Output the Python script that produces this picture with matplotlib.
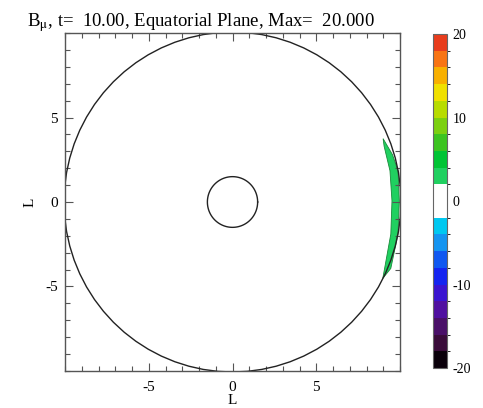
import matplotlib
matplotlib.use("Agg")
import matplotlib.pyplot as plt
import numpy as np
from matplotlib.colors import BoundaryNorm, ListedColormap
from matplotlib.ticker import MultipleLocator, FixedLocator

plt.rcParams["font.family"] = ["Liberation Serif", "DejaVu Serif"]
plt.rcParams["mathtext.fontset"] = "stix"
plt.rcParams["axes.unicode_minus"] = False

# Discrete colour table: 20 bins of width 2 from -20 to 20, white around zero
LEVELS = list(range(-20, 22, 2))
COLORS = [
    "#0a000a", "#3a0c3a", "#4a1068", "#5010a0", "#3a14d0",
    "#1424f0", "#1058f0", "#1494f0", "#00c8f0", "#ffffff",
    "#ffffff", "#20d060", "#00c434", "#3cc420", "#7cd010",
    "#b8dc00", "#f0e000", "#f8b000", "#f87414", "#e83c1c",
]
CBAR_TICKS = [-20, -10, 0, 10, 20]

# Field boundary (outer) and inner body radii, in L
OUTER_R = 10.06
INNER_R = 1.5

# Positive-B patch near the right edge of the domain (closed outline, in L)
CRESCENT_X = [8.99, 9.55, 9.88, 9.96, 9.88, 9.45, 8.97, 9.08, 9.45, 9.52, 9.40, 9.05]
CRESCENT_Y = [3.75, 2.80, 1.85, 0.06, -1.90, -3.93, -4.52, -3.93, -1.90, 0.06, 1.85, 3.30]
CRESCENT_VALUE = 3.0

T_VALUE = 10.00
MAX_VALUE = 20.000

cmap = ListedColormap(COLORS)
norm = BoundaryNorm(LEVELS, cmap.N)

fig = plt.figure(figsize=(4.83, 4.08), dpi=100)
ax = fig.add_axes([0.1346, 0.0907, 0.6936, 0.8284])

ax.fill(CRESCENT_X, CRESCENT_Y, color=cmap(norm(CRESCENT_VALUE)), lw=0.6,
        edgecolor="#1a8a3a", zorder=1)

theta = np.linspace(0, 2 * np.pi, 73)
ax.plot(OUTER_R * np.cos(theta), OUTER_R * np.sin(theta), color="#222222", lw=1.0, zorder=2)
phi = np.linspace(0, 2 * np.pi, 121)
ax.plot(INNER_R * np.cos(phi), INNER_R * np.sin(phi), color="#222222", lw=1.0, zorder=2)

ax.set_xlim(-10, 10)
ax.set_ylim(-10, 10)
ax.set_aspect("auto")
for a in (ax.xaxis, ax.yaxis):
    a.set_major_locator(FixedLocator([-5, 0, 5]))
    a.set_minor_locator(MultipleLocator(1))
ax.tick_params(which="both", direction="in", top=True, right=True,
               color="#555555", labelsize=11)
ax.tick_params(axis="x", pad=7)
ax.tick_params(axis="y", pad=5)
ax.tick_params(which="major", length=6, width=0.8)
ax.tick_params(which="minor", length=3.5, width=0.8)
for sp in ax.spines.values():
    sp.set_color("#555555")
    sp.set_linewidth(1.0)
ax.set_xlabel("L", fontsize=11)
ax.set_ylabel("L", fontsize=11)
ax.xaxis.set_label_coords(0.5, -0.068)
ax.yaxis.set_label_coords(-0.085, 0.5)

fig.text(27 / 483, 1 - 26 / 408,
         rf"B$_\mathrm{{\mu}}$, t=  {T_VALUE:.2f}, Equatorial Plane, Max=  {MAX_VALUE:.3f}",
         fontsize=13.5, ha="left", va="baseline")

cax = fig.add_axes([0.8965, 0.098, 0.029, 0.8186])
sm = matplotlib.cm.ScalarMappable(norm=norm, cmap=cmap)
cb = fig.colorbar(sm, cax=cax, ticks=CBAR_TICKS, spacing="proportional")
cb.ax.tick_params(length=0, labelsize=10, pad=4)
cb.outline.set_edgecolor("#666666")
cb.outline.set_linewidth(0.8)
cb.ax.set_yticklabels([str(t) for t in CBAR_TICKS])

fig.savefig("out.png", dpi=100)
